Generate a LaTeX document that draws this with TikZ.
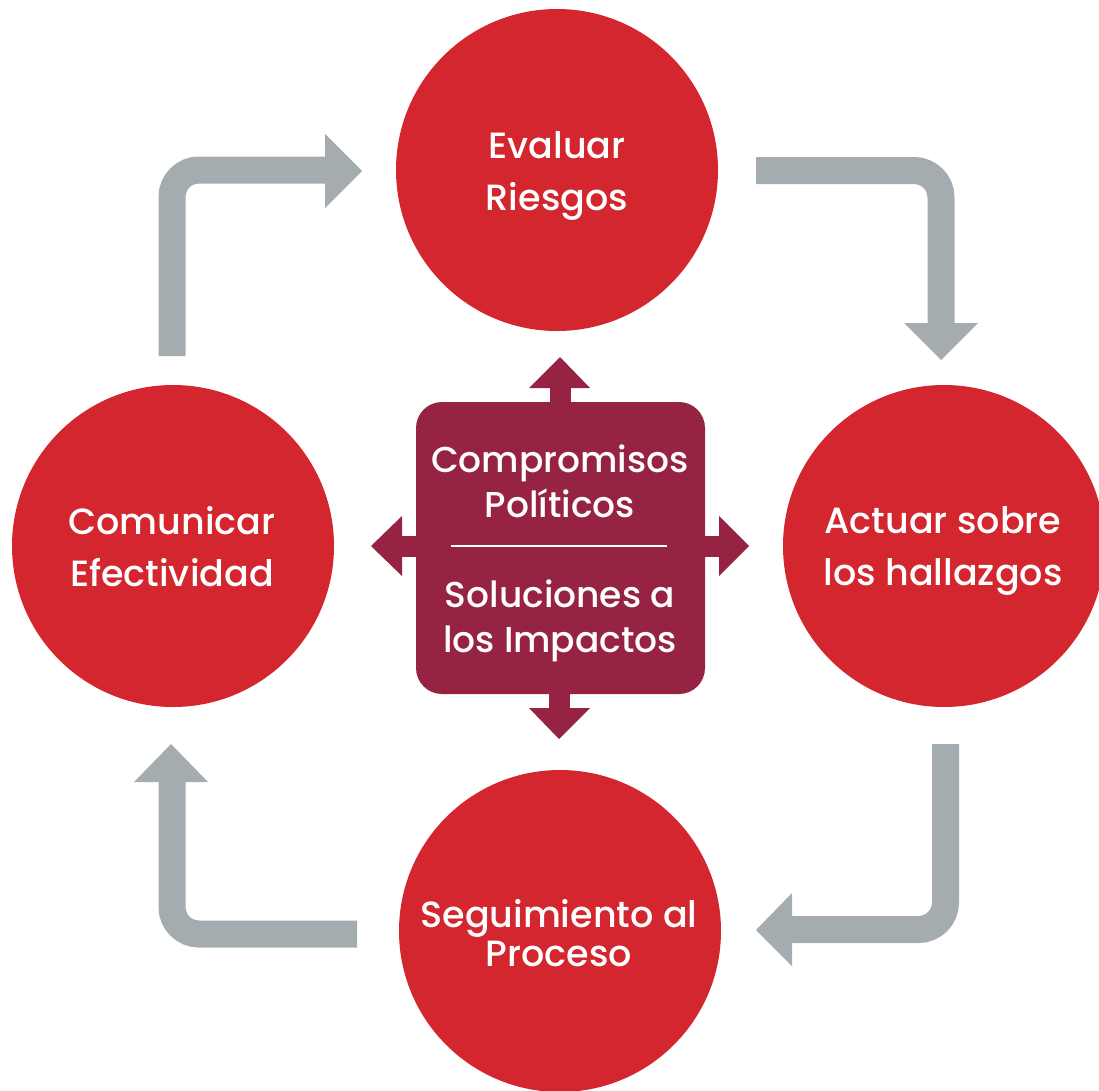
\documentclass[tikz,border=0pt]{standalone}
\usepackage{fontspec}
\setmainfont{Poppins}[UprightFont={* Medium}]
\definecolor{cred}{HTML}{D4262E}
\definecolor{cmaroon}{HTML}{962342}
\definecolor{cgray}{HTML}{A5ACAF}
\tikzset{
  stage/.style={circle, fill=cred, minimum size=322pt, inner sep=0pt},
  stagetext/.style={text=white, align=center, font=\fontsize{36.5}{52}\selectfont},
  core/.style={rounded corners=26pt, fill=cmaroon, minimum width=289pt, minimum height=292pt, inner sep=0pt},
  coretext/.style={text=white, align=center, font=\fontsize{36}{45}\selectfont},
  flow/.style={draw=cgray, line width=27pt, rounded corners=27pt},
  flowhead/.style={fill=cgray},
  spoke/.style={draw=cmaroon, line width=21pt},
  spokehead/.style={fill=cmaroon}
}
\begin{document}
\begin{tikzpicture}[x=1pt,y=-1pt]
\useasboundingbox (0,0) rectangle (1099,1090);
\clip (0,0) rectangle (1099,1090);
% stages
\node[stage] (eval) at (557,170) {};
\node[stage] (act) at (944,546) {};
\node[stage] (seg) at (560,931) {};
\node[stage] (com) at (173,546) {};
\node[stagetext] (evalt) at (557,176) {Evaluar\\Riesgos};
\node[stagetext] (actt) at (943,551) {Actuar sobre\\los hallazgos};
\node[stagetext, font=\fontsize{36.5}{39}\selectfont] (segt) at (559,933) {Seguimiento al\\Proceso};
\node[stagetext] (comt) at (172,546.5) {Comunicar\\Efectividad};
% spokes
\coordinate (upb) at (560,388); \coordinate (upt) at (560,357);
\coordinate (dnb) at (559,708); \coordinate (dnt) at (559,739);
\coordinate (lfb) at (402,546); \coordinate (lft) at (371,546);
\coordinate (rtb) at (719,546); \coordinate (rtt) at (749,546);
\draw[spoke] (560,420) -- (upb);
\draw[spoke] (559,680) -- (dnb);
\draw[spoke] (430,546) -- (lfb);
\draw[spoke] (690,546) -- (rtb);
\fill[spokehead] (529,388) -- (upt) -- (590,388) -- cycle;
\fill[spokehead] (529,708) -- (dnt) -- (590,708) -- cycle;
\fill[spokehead] (402,516) -- (lft) -- (402,576) -- cycle;
\fill[spokehead] (719,516) -- (rtt) -- (719,576) -- cycle;
% core
\node[core] (core) at (560.5,548) {};
\draw[white, line width=2pt] (451,546) -- (667,546);
\node[coretext] (t1) at (560,481) {Compromisos\\Políticos};
\node[coretext] (t2) at (560,621) {Soluciones a\\los Impactos};
% gray flow arrows
\coordinate (a1s) at (172,356); \coordinate (a1c) at (172,170); \coordinate (a1e) at (326,170);
\draw[flow] (a1s) -- (a1c) -- (a1e);
\fill[flowhead] (325,134) -- (362,171) -- (325,208) -- cycle;
\coordinate (a2s) at (756,170.5); \coordinate (a2c) at (941,170.5); \coordinate (a2e) at (941,324);
\draw[flow] (a2s) -- (a2c) -- (a2e);
\fill[flowhead] (904,323) -- (941,360) -- (978,323) -- cycle;
\coordinate (a3s) at (945.5,744); \coordinate (a3c) at (945.5,929.5); \coordinate (a3e) at (791,929.5);
\draw[flow] (a3s) -- (a3c) -- (a3e);
\fill[flowhead] (792,893) -- (756,930) -- (792,966) -- cycle;
\coordinate (a4s) at (357,934); \coordinate (a4c) at (172,934); \coordinate (a4e) at (172,781);
\draw[flow] (a4s) -- (a4c) -- (a4e);
\fill[flowhead] (134,782) -- (171,744) -- (208,782) -- cycle;
\end{tikzpicture}
\end{document}
